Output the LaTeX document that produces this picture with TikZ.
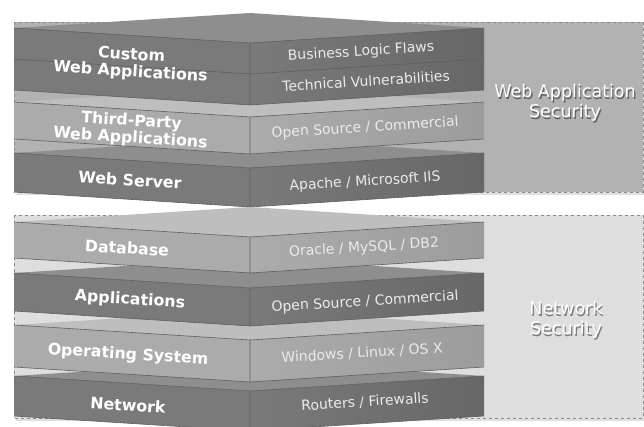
\documentclass[tikz,border=0pt]{standalone}
\usepackage{fontspec}
\setmainfont{DejaVu Sans}
\usetikzlibrary{shadows}

\definecolor{darkface}{HTML}{7A7A7A}
\definecolor{darkend}{HTML}{676767}
\definecolor{darktop}{HTML}{8E8E8E}
\definecolor{lightface}{HTML}{ABABAB}
\definecolor{lightend}{HTML}{9C9C9C}
\definecolor{lighttop}{HTML}{BEBEBE}
\definecolor{webzone}{HTML}{B2B2B2}
\definecolor{netzone}{HTML}{DEDEDE}
\definecolor{zoneline}{HTML}{8A8A8A}
\definecolor{edgeline}{HTML}{5E5E5E}

\tikzset{
  edge/.style={draw=edgeline, line width=0.6pt, line join=round},
  zone/.style={draw=zoneline, dashed, line width=0.8pt,
    drop shadow={opacity=0.25, shadow xshift=2pt, shadow yshift=-3pt}},
  layerlabel/.style={text=white, font=\bfseries\fontsize{15.8}{17}\selectfont,
    align=center, rotate=-3.6, inner sep=0pt},
  itemlabel/.style={text=white!92!black, font=\fontsize{14}{16}\selectfont,
    rotate=3.6, inner sep=0pt},
  zonelabel/.style={text=white, font=\fontsize{17.5}{20}\selectfont,
    align=center, inner sep=0pt},
  zoneshadow/.style={zonelabel, text=black, opacity=0.45},
}

% one slab of the stack: top y, height, face colour, far-right colour, top colour
\newcommand\stacklayer[5]{%
  \fill[#5] (14,#1) -- (250,#1-15) -- (484,#1) -- (250,#1+15) -- cycle;
  \fill[#3] (14,#1) -- (250,#1+15) -- (250,#1+15+#2) -- (14,#1+#2) -- cycle;
  \shade[left color=#3, right color=#4]
    (250,#1+15) -- (484,#1) -- (484,#1+#2) -- (250,#1+15+#2) -- cycle;
  \draw[edge] (14,#1) -- (250,#1+15) -- (484,#1)
    (250,#1+15) -- (250,#1+15+#2)
    (14,#1+#2) -- (250,#1+15+#2) -- (484,#1+#2);
}

\begin{document}
\begin{tikzpicture}[x=1pt, y=-1pt]
\useasboundingbox (0,0) rectangle (644,427);
\clip (0,0) rectangle (644,427);
\fill[white] (0,0) rectangle (644,427);

% security zones
\path[zone, fill=webzone] (14,22) rectangle (643,192);
\path[zone, fill=netzone] (14,215) rectangle (643,418);

% web application stack, bottom slab first
\stacklayer{153}{39}{darkface}{darkend}{darktop}
\stacklayer{102}{37}{lightface}{lightend}{lighttop}
\stacklayer{28}{62}{darkface}{darkend}{darktop}
\draw[edge] (14,59) -- (250,74) -- (484,59);

% network stack, bottom slab first
\stacklayer{376}{40}{darkface}{darkend}{darktop}
\stacklayer{325}{42}{lightface}{lightend}{lighttop}
\stacklayer{273}{38}{darkface}{darkend}{darktop}
\stacklayer{222}{36}{lightface}{lightend}{lighttop}

% layer names
\node[layerlabel] (custom) at (131,64) {Custom\\Web Applications};
\node[layerlabel] (thirdparty) at (131,130) {Third-Party\\Web Applications};
\node[layerlabel] (webserver) at (130,180) {Web Server};
\node[layerlabel] (database) at (127,248) {Database};
\node[layerlabel] (apps) at (130,300) {Applications};
\node[layerlabel] (os) at (128,355) {Operating System};
\node[layerlabel] (network) at (128,405) {Network};

% layer contents
\node[itemlabel] (flaws) at (361,52) {Business Logic Flaws};
\node[itemlabel] (vulns) at (366,81) {Technical Vulnerabilities};
\node[itemlabel] (thirdsrc) at (365,128) {Open Source / Commercial};
\node[itemlabel] (servers) at (365,182) {Apache / Microsoft IIS};
\node[itemlabel] (dbs) at (364,248) {Oracle / MySQL / DB2};
\node[itemlabel] (appsrc) at (365,302) {Open Source / Commercial};
\node[itemlabel] (oses) at (362,353) {Windows / Linux / OS X};
\node[itemlabel] (routers) at (365,402) {Routers / Firewalls};

% zone names with their soft shadow
\node[zoneshadow] at (566.2,104.2) {Web Application\\Security};
\node[zonelabel] (webzone) at (565,103) {Web Application\\Security};
\node[zoneshadow] at (567.2,321.2) {Network\\Security};
\node[zonelabel] (netzone) at (566,320) {Network\\Security};
\end{tikzpicture}
\end{document}
